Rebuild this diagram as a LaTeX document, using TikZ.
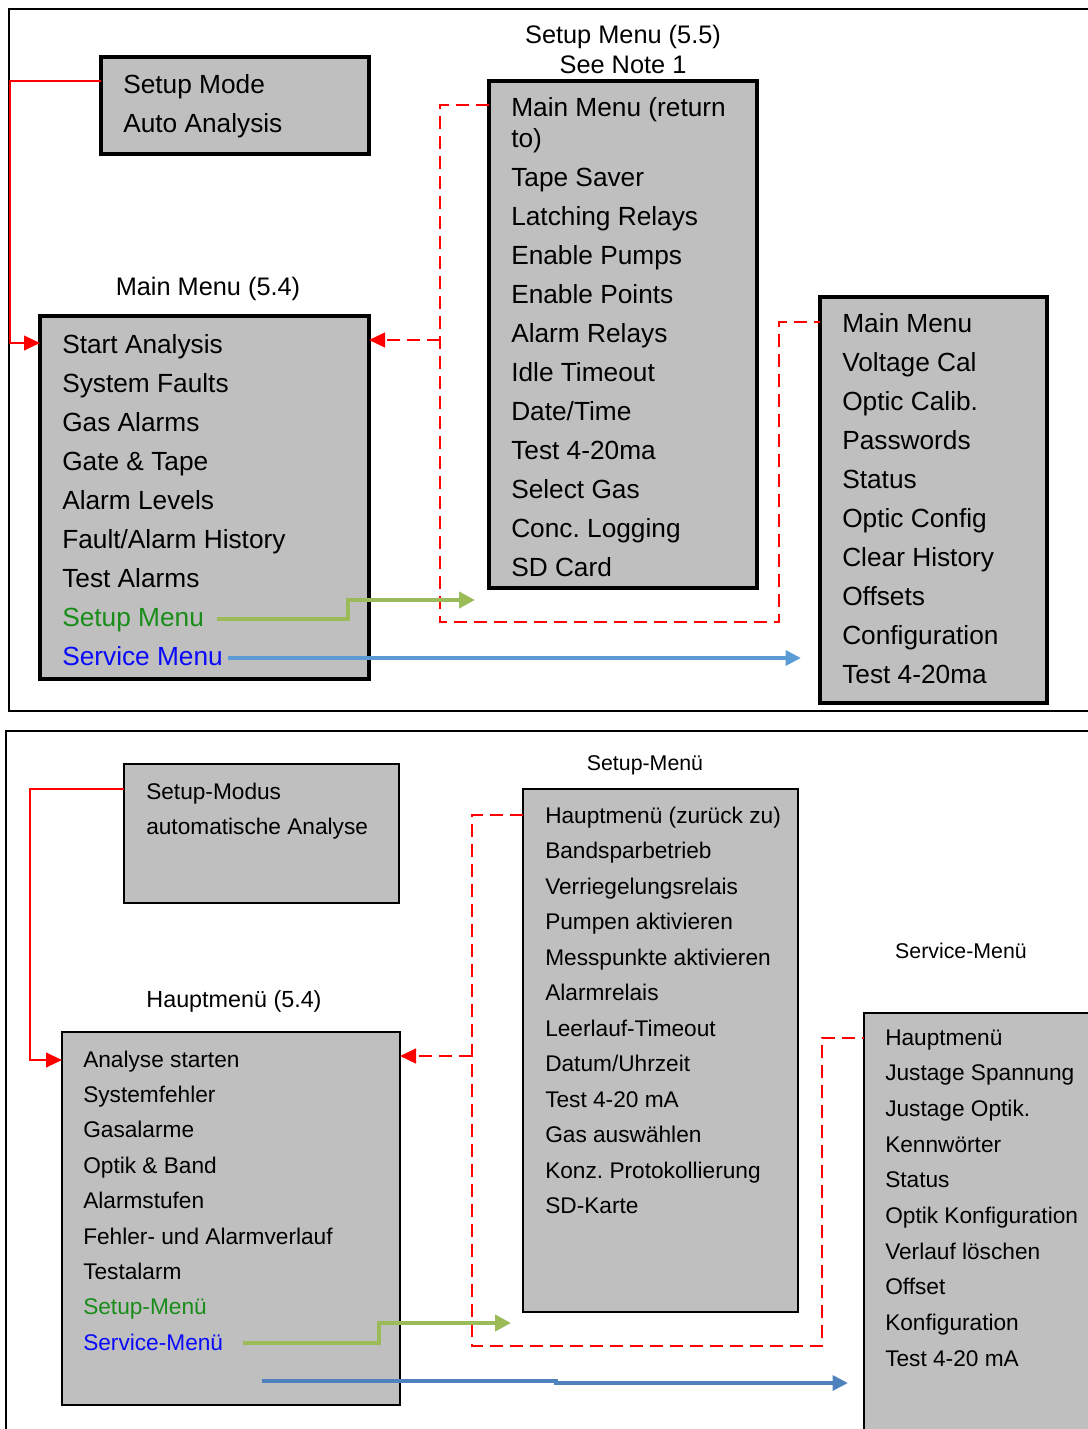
\documentclass[tikz,border=0pt]{standalone}
\usepackage{fontspec}
\setmainfont{Liberation Sans}
\frenchspacing
\usetikzlibrary{calc,fit,arrows.meta}
\definecolor{boxgray}{RGB}{191,191,191}
\definecolor{linkred}{RGB}{255,0,0}
\definecolor{setupgreen}{RGB}{155,187,89}
\definecolor{textgreen}{RGB}{25,140,25}
\definecolor{textblue}{RGB}{10,10,250}
\definecolor{servblue}{RGB}{91,155,213}
\definecolor{servbluedark}{RGB}{79,129,189}

\tikzset{
  panel/.style={draw, line width=1.5pt},
  menubox/.style={draw, fill=boxgray, line width=2.4pt, inner sep=0pt, outer sep=0pt},
  menuboxde/.style={menubox, line width=2pt},
  itemtop/.style={anchor=base west, inner sep=0pt, font=\fontsize{19.7}{24}\selectfont},
  itembot/.style={anchor=base west, inner sep=0pt, font=\fontsize{17}{20}\selectfont},
  titletop/.style={anchor=base, inner sep=0pt, font=\fontsize{19}{23}\selectfont},
  titlebot/.style={anchor=base, inner sep=0pt, font=\fontsize{17.5}{21}\selectfont},
  titlesmall/.style={anchor=base, inner sep=0pt, font=\fontsize{16}{19}\selectfont},
  modelink/.style={draw=linkred, line width=1.5pt, -{Triangle[length=12pt,width=11pt]}},
  backlink/.style={draw=linkred, line width=1.8pt, dash pattern=on 10pt off 5pt},
  backarrow/.style={backlink, -{Triangle[length=12pt,width=11pt]}},
  tosetup/.style={draw=setupgreen, line width=3.6pt, -{Triangle[length=12pt,width=12pt]}},
  toservice/.style={draw=servblue, line width=3pt, -{Triangle[length=11.5pt,width=11pt]}},
  toservicede/.style={toservice, draw=servbluedark}
}

\begin{document}
\begin{tikzpicture}[x=0.75pt, y=-0.75pt]
  \clip (0,0) rectangle (1088,1429);

  % English menus
  \draw[panel] (9,9) rectangle (1100,711);

  \node[menubox, fit={(101,57) (369,154)}] (modebox) {};
  \node[itemtop] (mode0) at (123,93) {Setup Mode};
  \node[itemtop] (mode1) at (123,132) {Auto Analysis};

  \node[titletop] (maintitle) at (208,295) {Main Menu (5.4)};
  \node[menubox, fit={(40,316) (369,679)}] (mainbox) {};
  \foreach \txt [count=\i from 0] in {Start Analysis, System Faults, Gas Alarms, Gate \& Tape, Alarm Levels, Fault/Alarm History, Test Alarms, \textcolor{textgreen}{Setup Menu}, \textcolor{textblue}{Service Menu}}
    \node[itemtop] (mm\i) at (62,353+39*\i) {\txt};

  \node[titletop] (setuptitle) at (623,43) {Setup Menu (5.5)};
  \node[titletop] (setupnote) at (623,73) {See Note 1};
  \node[menubox, fit={(489,81) (757,588)}] (setupbox) {};
  \node[itemtop] (sm0) at (511,116) {Main Menu (return};
  \node[itemtop] (sm1) at (511,147) {to)};
  \foreach \txt [count=\i from 2] in {Tape Saver, Latching Relays, Enable Pumps, Enable Points, Alarm Relays, Idle Timeout, Date/Time, Test 4-20ma, Select Gas, Conc. Logging, SD Card}
    \node[itemtop] (sm\i) at (511,108+39*\i) {\txt};

  \node[menubox, fit={(820,297) (1047,703)}] (servbox) {};
  \foreach \txt [count=\i from 0] in {Main Menu, Voltage Cal, Optic Calib., Passwords, Status, Optic Config, Clear History, Offsets, Configuration, Test 4-20ma}
    \node[itemtop] (sv\i) at (842,332+39*\i) {\txt};

  \draw[modelink] ($(modebox.north west)+(0,24)$) -- ++(-91,0) |- ($(mainbox.north west)+(0,27)$);
  \coordinate (mainret) at ($(mainbox.north east)+(0,24)$);
  \draw[backlink] ($(setupbox.north west)+(0,24)$) -- ++(-49,0) coordinate (setupjoin) -- ++(0,517)
    -| ($(servbox.north west)+(-41,25)$) -- ($(servbox.north west)+(0,25)$);
  \draw[backarrow] (setupjoin |- mainret) -- (mainret);
  \draw[tosetup] ($(mainbox.south west)+(177,-60)$) -- ++(131,0) |- ($(setupbox.south west)+(-14,12)$);
  \draw[toservice] ($(mainbox.south west)+(188,-21)$) -- ($(servbox.south west)+(-19,-45)$);

  % German menus
  \draw[panel, line width=1.2pt] (6,731) rectangle (1100,1440);

  \node[menuboxde, fit={(124,764) (399,903)}] (modebox2) {};
  \node[itembot] (modeb0) at (146,799) {Setup-Modus};
  \node[itembot] (modeb1) at (146,834) {automatische Analyse};

  \node[titlebot] (maintitle2) at (234,1007) {Hauptmenü (5.4)};
  \node[menuboxde, fit={(62,1032) (400,1405)}] (mainbox2) {};
  \foreach \txt [count=\i from 0] in {Analyse starten, Systemfehler, Gasalarme, Optik \& Band, Alarmstufen, Fehler- und Alarmverlauf, Testalarm, \textcolor{textgreen}{Setup-Menü}, \textcolor{textblue}{Service-Menü}}
    \node[itembot] (mb\i) at (83,1067+35.4*\i) {\txt};

  \node[titlesmall] (setuptitle2) at (645,770) {Setup-Menü};
  \node[menuboxde, fit={(523,789) (798,1312)}] (setupbox2) {};
  \foreach \txt [count=\i from 0] in {Hauptmenü (zurück zu), Bandsparbetrieb, Verriegelungsrelais, Pumpen aktivieren, Messpunkte aktivieren, Alarmrelais, Leerlauf-Timeout, Datum/Uhrzeit, Test 4-20 mA, Gas auswählen, Konz. Protokollierung, SD-Karte}
    \node[itembot] (sb\i) at (545,823+35.5*\i) {\txt};

  \node[titlesmall] (servtitle2) at (961,958) {Service-Menü};
  \node[menuboxde, fit={(864,1013) (1100,1440)}] (servbox2) {};
  \foreach \txt [count=\i from 0] in {Hauptmenü, Justage Spannung, Justage Optik., Kennwörter, Status, Optik Konfiguration, Verlauf löschen, Offset, Konfiguration, Test 4-20 mA}
    \node[itembot] (vb\i) at (885,1045+35.67*\i) {\txt};

  \draw[modelink] ($(modebox2.north west)+(0,25)$) -- ++(-94,0) |- ($(mainbox2.north west)+(0,28)$);
  \coordinate (mainret2) at ($(mainbox2.north east)+(0,24)$);
  \draw[backlink] ($(setupbox2.north west)+(0,26)$) -- ++(-51,0) coordinate (setupjoin2) -- ++(0,531)
    -| ($(servbox2.north west)+(-42,25)$) -- ($(servbox2.north west)+(0,25)$);
  \draw[backarrow] (setupjoin2 |- mainret2) -- (mainret2);
  \draw[tosetup] ($(mainbox2.south west)+(181,-62)$) -- ++(136,0) |- ($(setupbox2.south west)+(-12,11)$);
  \draw[toservicede] ($(mainbox2.south west)+(200,-24)$) -- ++(294,0) -- ++(0,2) -- ($(servbox2.north west)+(-16,370)$);
\end{tikzpicture}
\end{document}
